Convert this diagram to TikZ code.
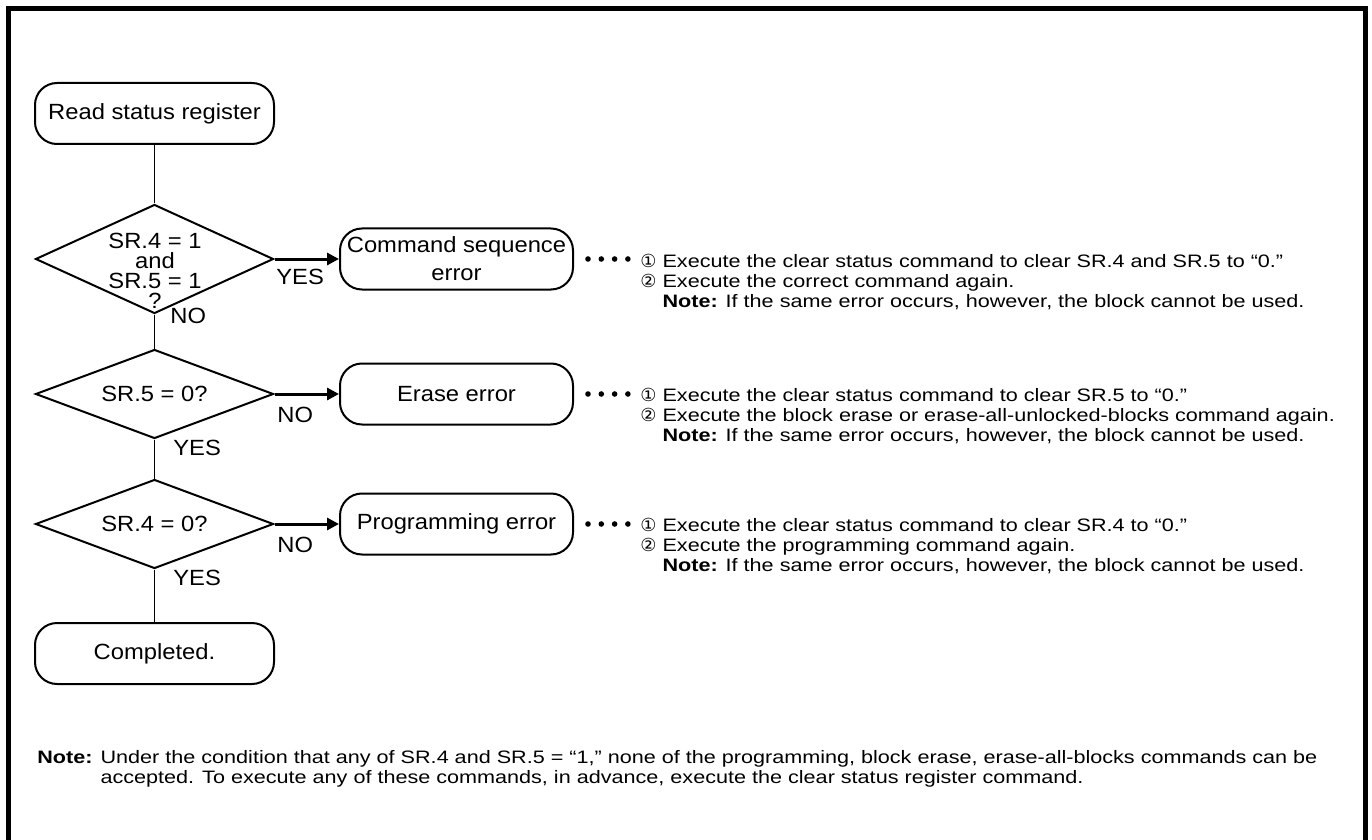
\documentclass[tikz,border=0pt]{standalone}
\usepackage{fontspec}
\setmainfont[FakeStretch=1.08]{Liberation Sans}
\newfontfamily\descfont[FakeStretch=1.2]{Liberation Sans}
\newfontfamily\circfont{DejaVu Sans}
\usetikzlibrary{shapes.geometric,arrows.meta}
\newcommand{\circone}{{\circfont ①}}
\newcommand{\circtwo}{{\circfont ②}}

\begin{document}
\begin{tikzpicture}[x=0.5pt, y=-0.5pt,
  term/.style={draw, line width=1pt, rounded corners=11pt, minimum width=119.5pt, minimum height=30.5pt, inner sep=1pt, align=center, font=\fontsize{11}{14}\selectfont},
  errbox/.style={term, minimum width=116.5pt},
  decide/.style={draw, diamond, shape aspect=2.67, line width=1pt, minimum width=119pt, minimum height=44.5pt, inner sep=0pt, align=center, font=\fontsize{11}{10}\selectfont},
  flow/.style={line width=0.7pt},
  arr/.style={line width=1.5pt, -{Triangle[length=6pt,width=6pt]}},
  yesno/.style={anchor=west, inner sep=0pt, font=\fontsize{11}{13}\selectfont},
  dotext/.style={anchor=north west, inner sep=0pt, align=left, font=\descfont\fontsize{9}{10}\selectfont}]
  \useasboundingbox (0,0) rectangle (1372,840);
  \draw[line width=2.5pt] (8,860) -- (8,9) -- (1365,9) -- (1365,860);

  \node[term] (read) at (154.5,113.5) {Read status register};
  \node[decide, shape aspect=2.18, minimum height=54.5pt] (d1) at (154.5,259) {};
  \node[align=center, inner sep=0pt, font=\fontsize{11}{10}\selectfont] (d1t) at (155,271) {SR.4 = 1\\and\\SR.5 = 1\\?};
  \node[decide] (d2) at (154.5,394) {SR.5 = 0?};
  \node[decide] (d3) at (154.5,524) {SR.4 = 0?};
  \node[term] (done) at (154.5,653.5) {Completed.};

  \node[errbox] (cmd) at (456.5,259) {Command sequence\\error};
  \node[errbox] (ers) at (456.5,394) {Erase error};
  \node[errbox] (prg) at (456.5,524) {Programming error};

  \draw[flow] (read.south) -- (d1.north);
  \draw[flow] (d1.south) -- (d2.north);
  \draw[flow] (d2.south) -- (d3.north);
  \draw[flow] (d3.south) -- (done.north);
  \draw[arr] (d1.east) -- (cmd.west);
  \draw[arr] (d2.east) -- (ers.west);
  \draw[arr] (d3.east) -- (prg.west);

  \node[yesno] (y1) at (276,277) {YES};
  \node[yesno] (n1) at (170,316) {NO};
  \node[yesno] (n2) at (277,415) {NO};
  \node[yesno] (y2) at (173,448) {YES};
  \node[yesno] (n3) at (277,545) {NO};
  \node[yesno] (y3) at (173,578) {YES};

  \foreach \yy in {259,394,524} {
    \foreach \i in {0,...,3} {
      \fill (588+13.3*\i,\yy) circle (1.4pt);
    }
  }

  \node[dotext] (cmdtxt) at (640,254) {\circone\ Execute the clear status command to clear SR.4 and SR.5 to “0.”\\
    \circtwo\ Execute the correct command again.\\
    \phantom{\circone\ }\textbf{Note:} If the same error occurs, however, the block cannot be used.};
  \node[dotext] (erstxt) at (640,388) {\circone\ Execute the clear status command to clear SR.5 to “0.”\\
    \circtwo\ Execute the block erase or erase-all-unlocked-blocks command again.\\
    \phantom{\circone\ }\textbf{Note:} If the same error occurs, however, the block cannot be used.};
  \node[dotext] (prgtxt) at (640,518) {\circone\ Execute the clear status command to clear SR.4 to “0.”\\
    \circtwo\ Execute the programming command again.\\
    \phantom{\circone\ }\textbf{Note:} If the same error occurs, however, the block cannot be used.};

  \node[dotext] (foot) at (37,750) {\textbf{Note:} Under the condition that any of SR.4 and SR.5 = “1,” none of the programming, block erase, erase-all-blocks commands can be\\
    \phantom{\textbf{Note:} }accepted. To execute any of these commands, in advance, execute the clear status register command.};
\end{tikzpicture}
\end{document}
